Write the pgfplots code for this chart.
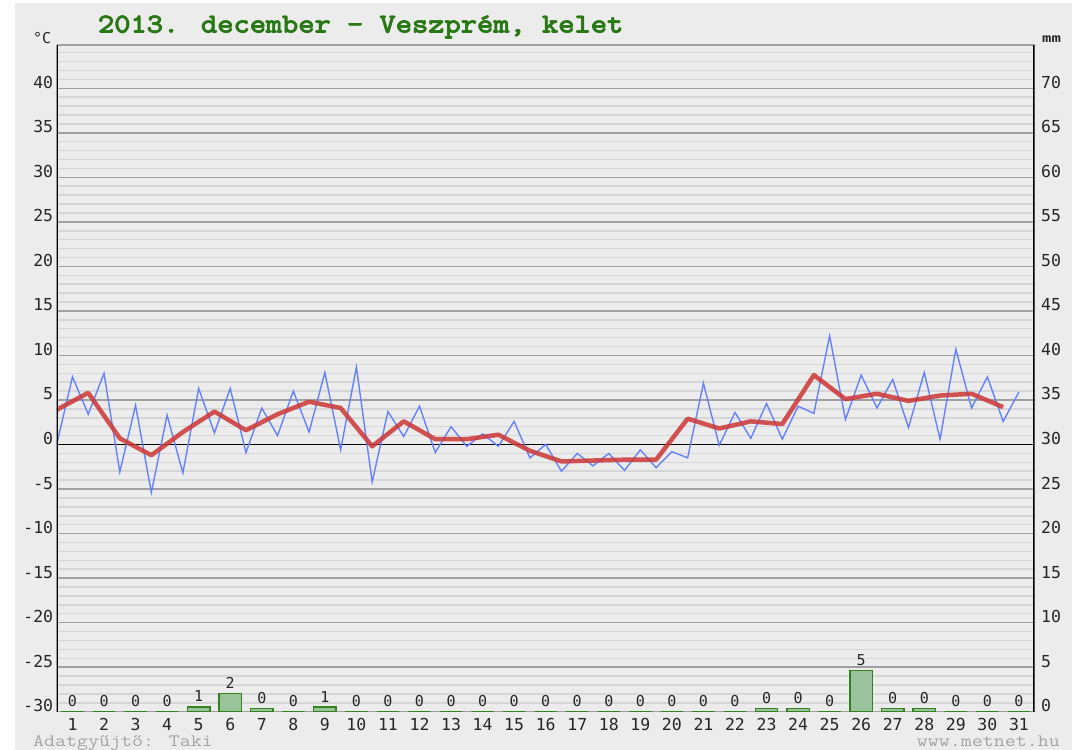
\documentclass[border=0pt]{standalone}
\usepackage{pgfplots}
\usepackage{pgfplotstable}
\pgfplotsset{compat=1.18}
\usepackage{fontspec}
\setmainfont{DejaVu Sans Mono}
\newfontfamily\tickfont{DejaVu Sans Mono}
\definecolor{bg}{RGB}{236,236,236}
\definecolor{majgrid}{RGB}{160,160,160}
\definecolor{mingrid}{RGB}{214,214,214}
\definecolor{titlegreen}{RGB}{40,120,20}
\definecolor{tempblue}{RGB}{100,130,255}
\definecolor{tempred}{RGB}{205,55,55}
\definecolor{barfill}{RGB}{155,195,155}
\definecolor{bardraw}{RGB}{50,130,30}
\definecolor{footgray}{RGB}{165,165,165}

\pgfplotstableread{
x mm lbl
0.5 0 0
1.5 0 0
2.5 0 0
3.5 0 0
4.5 0.55 1
5.5 2.05 2
6.5 0.35 0
7.5 0 0
8.5 0.5 1
9.5 0 0
10.5 0 0
11.5 0 0
12.5 0 0
13.5 0 0
14.5 0 0
15.5 0 0
16.5 0 0
17.5 0 0
18.5 0 0
19.5 0 0
20.5 0 0
21.5 0 0
22.5 0.35 0
23.5 0.35 0
24.5 0 0
25.5 4.65 5
26.5 0.35 0
27.5 0.35 0
28.5 0 0
29.5 0 0
30.5 0 0
}\raindata

\pgfplotsset{
  common/.style={
    at={(56.7bp,38.3bp)}, anchor=south west,
    scale only axis, width=978bp, height=666.7bp,
    xmin=0, xmax=31,
    axis line style={draw=none},
    major tick length=0pt, minor tick length=0pt,
    ticklabel style={font=\tickfont\fontsize{16.5bp}{19bp}\selectfont, text=black!85},
  }
}
\newcommand{\titletext}{\scalebox{1.19}[1]{\ttfamily\fontsize{26.5bp}{30bp}\selectfont 2013. december - Veszprém, kelet}}

\begin{document}
\begin{tikzpicture}
\useasboundingbox (0,0) rectangle (1082bp,750bp);
\fill[white] (0,0) rectangle (1082bp,750bp);
\fill[bg] (15bp,0) rectangle (1072bp,747bp);

% main temperature axis
\begin{axis}[common,
  ymin=-30, ymax=44.86,
  ytick={-30,-25,...,40},
  yticklabels={-30,-25,-20,-15,-10,-5,0,5,10,15,20,25,30,35,40},
  minor ytick={-30,-29,...,44},
  ymajorgrids, yminorgrids,
  major grid style={majgrid, line width=1.5bp},
  minor grid style={mingrid, line width=1.5bp},
  yticklabel style={anchor=base east},
  xtick={0.5,1.5,...,30.5},
  xticklabels={1,2,3,4,5,6,7,8,9,10,11,12,13,14,15,16,17,18,19,20,21,22,23,24,25,26,27,28,29,30,31},
  xticklabel style={anchor=base, yshift=-18.3bp, inner sep=0pt, text depth=0pt},
]
\draw[majgrid, line width=1.5bp] (rel axis cs:0,1) -- (rel axis cs:1,1);
\draw[black, line width=1.5bp] (axis cs:0,0) -- (axis cs:31,0);

\addplot[tempblue, line width=1.4bp] coordinates {
(0.0,0.0) (0.5,7.6) (1.0,3.4) (1.5,8.0) (2.0,-3.1) (2.5,4.4) (3.0,-5.4) (3.5,3.3) (4.0,-3.2) (4.5,6.3)
(5.0,1.3) (5.5,6.3) (6.0,-0.9) (6.5,4.1) (7.0,1.0) (7.5,6.0) (8.0,1.4) (8.5,8.1) (9.0,-0.6) (9.5,8.7)
(10.0,-4.2) (10.5,3.7) (11.0,0.9) (11.5,4.3) (12.0,-0.9) (12.5,2.0) (13.0,-0.2) (13.5,1.2) (14.0,-0.2) (14.5,2.6)
(15.0,-1.5) (15.5,0.0) (16.0,-3.0) (16.5,-1.0) (17.0,-2.4) (17.5,-1.0) (18.0,-2.9) (18.5,-0.6) (19.0,-2.6) (19.5,-0.8)
(20.0,-1.5) (20.5,6.9) (21.0,-0.1) (21.5,3.6) (22.0,0.7) (22.5,4.6) (23.0,0.6) (23.5,4.3) (24.0,3.5) (24.5,12.2)
(25.0,2.8) (25.5,7.8) (26.0,4.1) (26.5,7.3) (27.0,1.9) (27.5,8.1) (28.0,0.6) (28.5,10.7) (29.0,4.1) (29.5,7.6)
(30.0,2.6) (30.5,5.9)
};
\addplot[tempred, line width=4.5bp, opacity=0.85, line join=round] coordinates {
(0,3.9) (1,5.8) (2,0.7) (3,-1.2) (4,1.4) (5,3.7) (6,1.6) (7,3.4) (8,4.8) (9,4.1)
(10,-0.2) (11,2.6) (12,0.6) (13,0.6) (14,1.1) (15,-0.7) (16,-1.9) (17,-1.8) (18,-1.7) (19,-1.7)
(20,2.9) (21,1.8) (22,2.6) (23,2.3) (24,7.8) (25,5.1) (26,5.7) (27,4.9) (28,5.5) (29,5.7) (30,4.2)
};
\draw[black, line width=3bp] (rel axis cs:0,0) -- (rel axis cs:0,1);
\draw[black, line width=3bp] (rel axis cs:1,0) -- (rel axis cs:1,1);
\end{axis}

% precipitation axis (right)
\begin{axis}[common,
  ymin=0, ymax=74.86,
  xtick=\empty,
  axis y line*=right,
  ytick={0,5,...,70},
  yticklabels={0,5,10,15,20,25,30,35,40,45,50,55,60,65,70},
  yticklabel style={anchor=base west, xshift=3bp},
  ybar, bar width=0.71,
  clip=false,
]
\addplot[ybar, fill=barfill, draw=bardraw, line width=1.5bp,
  point meta=explicit symbolic,
  nodes near coords,
  every node near coord/.append style={font=\tickfont\fontsize{15bp}{17bp}\selectfont, text=black!85, anchor=south, yshift=1bp}
] table[x=x, y=mm, meta=lbl] {\raindata};
\end{axis}

% title (slightly emboldened by overprinting)
\foreach \dx/\dy in {0/0, 0.5/0, 1.0/0, 0.5/0.4, 0.5/-0.4}{
  \node[anchor=base west, text=titlegreen, inner sep=0] at (97.5bp+\dx bp,717bp+\dy bp) {\titletext};
}
\node[anchor=base west, text=black!85, font=\tickfont\fontsize{15bp}{17bp}\selectfont, inner sep=0] at (33bp,706bp) {°C};
\node[anchor=base west, text=black!85, font=\tickfont\bfseries\fontsize{12bp}{14bp}\selectfont, inner sep=0] at (1042bp,707bp) {\scalebox{1.3}[1]{mm}};
\node[anchor=base west, text=footgray, inner sep=0, text height=10bp, text depth=0pt] at (33bp,4bp) {\scalebox{1.22}[1]{\ttfamily\fontsize{17.5bp}{20bp}\selectfont Adatgyűjtő: Taki}};
\node[anchor=base east, text=footgray, inner sep=0, text height=10bp, text depth=0pt] at (1060bp,4bp) {\scalebox{1.22}[1]{\ttfamily\fontsize{17.5bp}{20bp}\selectfont www.metnet.hu}};
\end{tikzpicture}
\end{document}
